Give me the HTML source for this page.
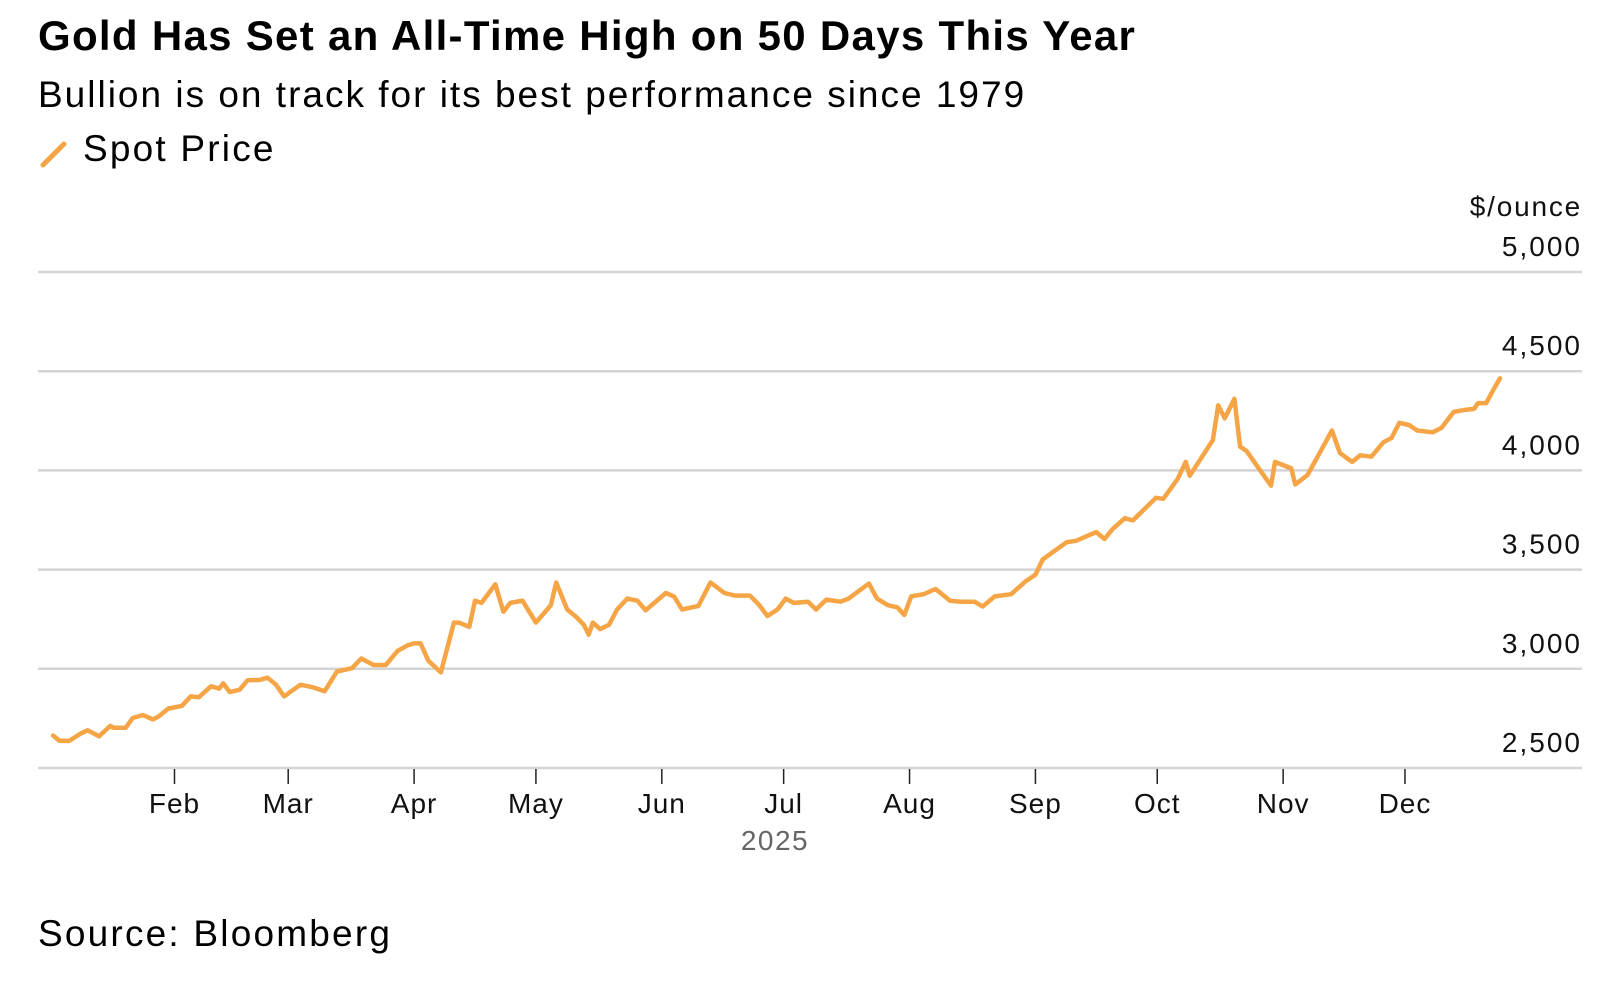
<!DOCTYPE html>
<html><head><meta charset="utf-8">
<style>
body{margin:0;background:#fff;font-family:"Liberation Sans",sans-serif;}
#wrap{position:relative;width:1600px;height:983px;overflow:hidden;}
.t{position:absolute;white-space:nowrap;color:#000;}
</style></head>
<body>
<div id="wrap">
<div class="t" style="left:38px;top:12px;font-size:42px;font-weight:bold;letter-spacing:1.3px;">Gold Has Set an All-Time High on 50 Days This Year</div>
<div class="t" style="left:38px;top:74px;font-size:37px;letter-spacing:2px;">Bullion is on track for its best performance since 1979</div>
<div style="position:absolute;left:38px;top:128px;height:44px;width:260px;">
  <svg width="30" height="30" style="position:absolute;left:2px;top:12px;"><line x1="3" y1="25" x2="24" y2="4" stroke="#f5a446" stroke-width="5" stroke-linecap="round"/></svg>
  <div class="t" style="left:45px;top:0;font-size:37px;letter-spacing:2.2px;">Spot Price</div>
</div>
<div class="t" style="left:38px;top:913px;font-size:37px;letter-spacing:2.2px;">Source: Bloomberg</div>
<svg id="chart" width="1600" height="983" style="position:absolute;left:0;top:0;"></svg>
</div>
<script>
const yTicks=[2500,3000,3500,4000,4500,5000];
const yTickLabels=["2,500","3,000","3,500","4,000","4,500","5,000"];
const monthNames=["Feb","Mar","Apr","May","Jun","Jul","Aug","Sep","Oct","Nov","Dec"];
const monthDays=[32,60,91,121,152,182,213,244,274,305,335];
const days=[2.1,3.6,6,9,10.6,13.4,16.2,17,20,21.7,24.2,26.7,28,30.5,33.8,36,38,41,43,44,45.6,48,50,53,54.9,57,59,63,65.7,69,72,75.7,78,81,84,87,89.5,91,92.6,94.5,97.6,100.8,102,104.6,106,107.6,111,113,114.7,117.7,121,124.7,126,128.7,131,132.8,134,135,136.8,139,141,143.5,146,148,153,155,157,161,164,167.4,170,173.7,176,178,180.5,182.5,184.5,188,190,192.5,196,198,203,205,207.6,210,211.7,213.4,216.5,219.4,223,225.7,229,231,234,238,241.6,244,245.8,248,251.7,254,259,261,263,266,268,273.7,275.5,279,281,282,287.7,289,290.6,293,294.4,296,298.6,302,303,307,308,311,315,317,319,322,324,326.7,329.7,331.7,333.6,336,338,341.8,344,347,350,352,353,355,357,358.4];
const prices=[2664,2638,2636,2675,2690,2660,2712,2703,2703,2752,2767,2745,2758,2800,2813,2861,2857,2912,2900,2927,2883,2894,2942,2944,2955,2920,2861,2920,2909,2887,2986,3003,3052,3019,3019,3091,3119,3128,3128,3041,2982,3233,3233,3211,3343,3332,3426,3288,3332,3343,3233,3321,3435,3299,3260,3222,3172,3233,3200,3222,3299,3354,3343,3295,3382,3365,3299,3317,3435,3382,3369,3369,3321,3266,3299,3354,3332,3338,3299,3349,3338,3354,3430,3354,3321,3310,3271,3365,3376,3402,3343,3338,3338,3314,3365,3376,3441,3474,3551,3584,3638,3645,3689,3654,3704,3759,3748,3862,3857,3956,4043,3973,4153,4328,4262,4361,4120,4098,4021,3923,4043,4010,3929,3977,4126,4201,4087,4043,4076,4069,4142,4164,4240,4229,4201,4192,4214,4295,4306,4310,4339,4339,4415,4464];
const NS="http://www.w3.org/2000/svg";
const svg=document.getElementById('chart');
const X0=38,X1=1582;
function xs(d){return 48.6+(d-1)*4.061;}
function ys(p){return 768-(p-2500)*(496/2500);}
function mk(tag,attrs){const e=document.createElementNS(NS,tag);for(const k in attrs)e.setAttribute(k,attrs[k]);svg.appendChild(e);return e;}
yTicks.forEach((v,i)=>{
  const g=mk('line',{x1:X0,x2:X1,y1:ys(v),y2:ys(v),stroke:'#d4d4d4','stroke-width':2.5});
  
  
  const t=mk('text',{x:X1,y:ys(v)-16,'text-anchor':'end','font-size':28,'letter-spacing':'2','font-family':'Liberation Sans, sans-serif',fill:'#111'});
  t.textContent=yTickLabels[i];
  
  
});
const unit=mk('text',{x:X1,y:ys(5000)-56,'text-anchor':'end','font-size':28,'letter-spacing':'1.8','font-family':'Liberation Sans, sans-serif',fill:'#111'});
unit.textContent='$/ounce';


monthDays.forEach((d,i)=>{
  const x=xs(d);
  const tk=mk('line',{x1:x,x2:x,y1:769,y2:784,stroke:'#222','stroke-width':1.5});
  
  
  const t=mk('text',{x:x,y:813,'text-anchor':'middle','font-size':28,'letter-spacing':'1','font-family':'Liberation Sans, sans-serif',fill:'#111'});
  t.textContent=monthNames[i];
  
  
});
const yr=mk('text',{x:775,y:850,'text-anchor':'middle','font-size':28,'letter-spacing':'1.5','font-family':'Liberation Sans, sans-serif',fill:'#666'});
yr.textContent='2025';


let dstr=days.map((d,i)=>(i?'L':'M')+xs(d).toFixed(1)+' '+ys(prices[i]).toFixed(1)).join(' ');
const path=mk('path',{d:dstr,fill:'none',stroke:'#f5a446','stroke-width':4.5,'stroke-linejoin':'round','stroke-linecap':'round'});


</script>
</body></html>
